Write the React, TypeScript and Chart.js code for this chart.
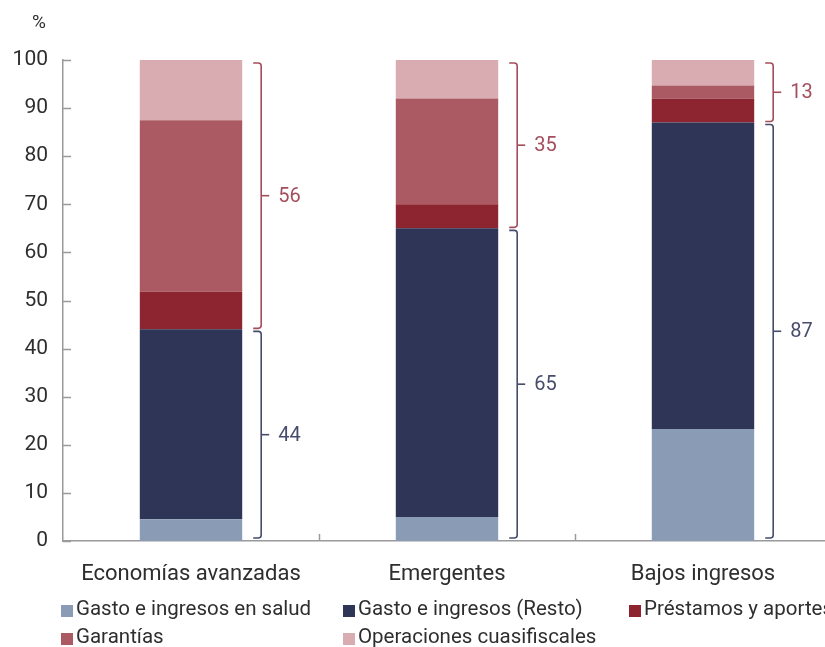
import React, { useEffect, useRef } from "react";
import { Chart, registerables } from "chart.js";

Chart.register(...registerables);

// Categories and stacked shares (% of total measures)
const categories = ["Economías avanzadas", "Emergentes", "Bajos ingresos"];
const saludValues = [4.5, 5.0, 23.3];
const restoValues = [39.5, 60.0, 63.7];
const prestamosValues = [7.8, 5.0, 5.0];
const garantiasValues = [35.7, 22.0, 2.7];
const cuasifiscalesValues = [12.5, 8.0, 5.3];
const yTicks = [0, 10, 20, 30, 40, 50, 60, 70, 80, 90, 100];

const seriesLabels = [
  "Gasto e ingresos en salud",
  "Gasto e ingresos (Resto)",
  "Préstamos y aportes",
  "Garantías",
  "Operaciones cuasifiscales",
];
const seriesColors = ["#8a9cb5", "#2e3556", "#8c2530", "#ab5a63", "#d9acb1"];

const FONT = "Roboto, 'Noto Sans', sans-serif";
const TEXT = "#2e2e2e";
const AXIS = "#9a9a9a";
const RED_BRACKET = "#a44d5c";
const NAVY_BRACKET = "#474c6c";

// Legend layout: column/row slots for each series
const legendSlots = [
  { x: 61, y: 610 },
  { x: 343, y: 610 },
  { x: 629, y: 610 },
  { x: 61, y: 638 },
  { x: 343, y: 638 },
];

function drawBracket(
  ctx: CanvasRenderingContext2D,
  x: number,
  yTop: number,
  yBottom: number,
  color: string,
  label: string
) {
  const hook = 8;
  const r = 3;
  ctx.save();
  ctx.strokeStyle = color;
  ctx.lineWidth = 1.6;
  ctx.beginPath();
  ctx.moveTo(x - hook, yTop);
  ctx.arcTo(x, yTop, x, yTop + r, r);
  ctx.lineTo(x, yBottom - r);
  ctx.arcTo(x, yBottom, x - hook, yBottom, r);
  ctx.lineTo(x - hook, yBottom);
  ctx.stroke();
  const yMid = (yTop + yBottom) / 2;
  ctx.beginPath();
  ctx.moveTo(x, yMid);
  ctx.lineTo(x + 8, yMid);
  ctx.stroke();
  ctx.fillStyle = color;
  ctx.font = `20px ${FONT}`;
  ctx.textAlign = "left";
  ctx.textBaseline = "middle";
  ctx.fillText(label, x + 17, yMid + 1);
  ctx.restore();
}

const decorPlugin = {
  id: "decor",
  afterDraw(chart: any) {
    const ctx: CanvasRenderingContext2D = chart.ctx;
    const xs = chart.scales.x;
    const ys = chart.scales.y;
    const area = chart.chartArea;

    // "%" unit label
    ctx.save();
    ctx.fillStyle = TEXT;
    ctx.font = `19px ${FONT}`;
    ctx.textAlign = "center";
    ctx.textBaseline = "middle";
    ctx.fillText("%", 39, 23);

    // inward tick marks on the y axis
    ctx.strokeStyle = AXIS;
    ctx.lineWidth = 1.5;
    yTicks.forEach((v) => {
      const y = Math.round(ys.getPixelForValue(v)) + 0.5;
      ctx.beginPath();
      ctx.moveTo(area.left, y);
      ctx.lineTo(area.left + 8, y);
      ctx.stroke();
    });

    // category separators on the x axis
    const step = xs.width / categories.length;
    for (let i = 1; i <= categories.length; i++) {
      const x = Math.round(area.left + step * i) + 0.5;
      ctx.beginPath();
      ctx.moveTo(x, area.bottom);
      ctx.lineTo(x, area.bottom - 7);
      ctx.stroke();
    }
    ctx.restore();

    // brackets with subtotals
    const meta = chart.getDatasetMeta(0);
    categories.forEach((_, i) => {
      const bar: any = meta.data[i];
      const half = bar.width / 2;
      const bx = xs.getPixelForValue(i) + half + 19;
      const lower = saludValues[i] + restoValues[i];
      const upper = prestamosValues[i] + garantiasValues[i] + cuasifiscalesValues[i];
      drawBracket(
        ctx,
        bx,
        ys.getPixelForValue(lower + upper) + 3,
        ys.getPixelForValue(lower) - 1,
        RED_BRACKET,
        String(Math.round(upper))
      );
      drawBracket(
        ctx,
        bx,
        ys.getPixelForValue(lower) + 2,
        ys.getPixelForValue(0) - 3,
        NAVY_BRACKET,
        String(Math.round(lower))
      );
    });

    // legend
    ctx.save();
    ctx.font = `20.5px ${FONT}`;
    ctx.textAlign = "left";
    ctx.textBaseline = "middle";
    chart.data.datasets.forEach((ds: any, i: number) => {
      const slot = legendSlots[i];
      ctx.fillStyle = ds.backgroundColor;
      ctx.fillRect(slot.x, slot.y - 5, 12, 12);
      ctx.fillStyle = TEXT;
      ctx.fillText(ds.label, slot.x + 15, slot.y);
    });
    ctx.restore();
  },
};

export default function App() {
  const canvasRef = useRef<HTMLCanvasElement | null>(null);

  useEffect(() => {
    document.body.style.margin = "0";
    const canvas = canvasRef.current;
    if (!canvas) return;
    const values = [saludValues, restoValues, prestamosValues, garantiasValues, cuasifiscalesValues];
    const chart = new Chart(canvas, {
      type: "bar",
      data: {
        labels: categories,
        datasets: values.map((data, i) => ({
          label: seriesLabels[i],
          data,
          backgroundColor: seriesColors[i],
          borderWidth: 0,
          barPercentage: 0.4,
          categoryPercentage: 1,
        })),
      },
      options: {
        responsive: false,
        animation: false,
        layout: { padding: { top: 60, bottom: 51, left: 12, right: 0 } },
        plugins: {
          legend: { display: false },
          tooltip: { enabled: false },
        },
        scales: {
          x: {
            stacked: true,
            grid: { display: false, drawTicks: false },
            border: { display: true, color: AXIS, width: 1.5 },
            afterFit: (scale: any) => {
              scale.height = 55;
            },
            ticks: {
              color: TEXT,
              font: { family: FONT, size: 22 },
              padding: 20,
              maxRotation: 0,
            },
          },
          y: {
            stacked: true,
            min: 0,
            max: 100,
            afterBuildTicks: (scale: any) => {
              scale.ticks = yTicks.map((v) => ({ value: v }));
            },
            afterFit: (scale: any) => {
              scale.width = 51;
            },
            grid: { display: false, drawTicks: false },
            border: { display: true, color: AXIS, width: 1.5 },
            ticks: {
              color: TEXT,
              font: { family: FONT, size: 21 },
              padding: 15,
            },
          },
        },
      },
      plugins: [decorPlugin],
    });
    return () => chart.destroy();
  }, []);

  // The plot runs slightly past the right edge, so the canvas is wider than its frame.
  return (
    <div style={{ width: 825, height: 647, overflow: "hidden" }}>
      <canvas ref={canvasRef} width={831} height={647} style={{ display: "block" }} />
    </div>
  );
}
